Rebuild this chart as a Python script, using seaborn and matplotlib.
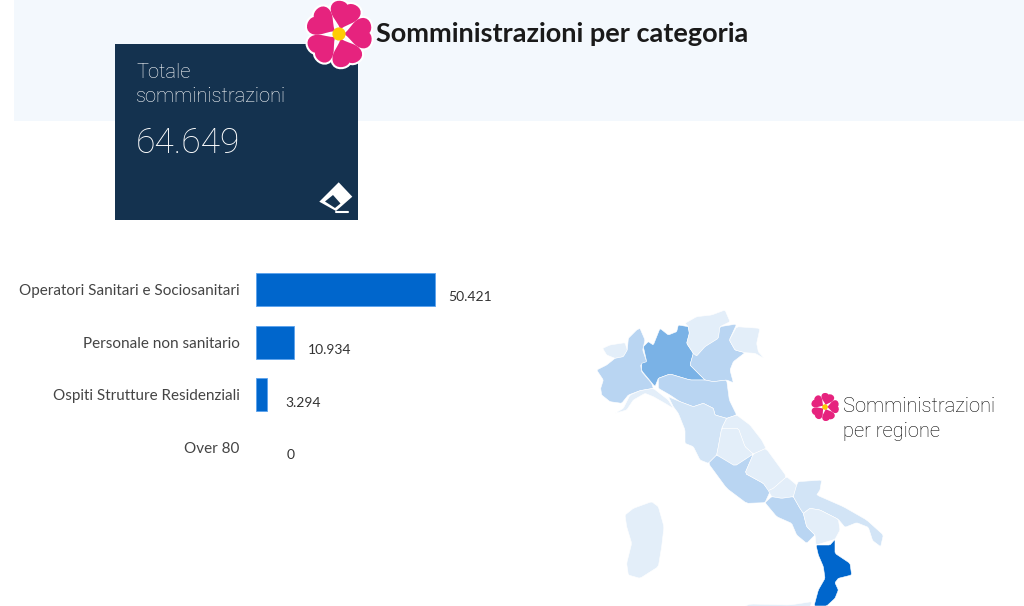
#plot.py
import numpy as np
import pandas as pd
import seaborn as sns
import matplotlib.pyplot as plt
from matplotlib.patches import PathPatch, Polygon, Rectangle, Circle
from matplotlib.path import Path
from matplotlib.transforms import Affine2D

#bar data
categories = ['Operatori Sanitari e Sociosanitari', 'Personale non sanitario',
              'Ospiti Strutture Residenziali', 'Over 80']
values = [50421, 10934, 3294, 0]
value_labels = ['50.421', '10.934', '3.294', '0']
total_label = '64.649'

BLUE = '#0066CC'
C1 = '#E3EEF9'
C2 = '#D2E4F6'
C3 = '#B9D5F2'
C4 = '#7AB2E6'
FONT = 'Lato'
LIGHT = 'Roboto'

#map outlines, (x, y) in px relative to the map corner
regions = {
    'aosta': (C1, [(38,145),(60,135),(105,128),(112,150),(100,170),(75,175),(50,165)]),
    'piemonte': (C3, [(20,210),(50,195),(75,175),(100,170),(112,150),(115,115),(140,90),(150,85),(165,120),(158,150),(170,185),(152,195),(155,215),(185,250),(190,265),(150,272),(115,285),(95,310),(60,305),(35,285),(32,265),(40,240)]),
    'lombardia': (C4, [(160,140),(175,125),(190,135),(210,85),(235,105),(260,95),(265,75),(295,80),(298,100),(290,130),(310,160),(300,195),(320,215),(345,240),(300,240),(240,222),(205,235),(195,260),(155,212),(155,190),(170,185)]),
    'trentino': (C1, [(285,70),(320,50),(365,45),(405,30),(420,65),(390,80),(385,115),(345,140),(320,168),(310,160),(290,130),(298,100),(295,80)]),
    'veneto': (C3, [(390,80),(440,72),(418,120),(435,150),(465,158),(430,185),(420,210),(430,248),(410,240),(370,245),(345,240),(320,215),(300,195),(310,160),(320,168),(345,140),(385,115)]),
    'friuli': (C1, [(440,80),(510,85),(500,130),(505,155),(522,175),(495,160),(465,158),(435,150),(418,120)]),
    'liguria': (C1, [(75,340),(100,325),(120,285),(150,272),(190,265),(235,300),(250,325),(225,310),(190,290),(165,280),(130,300),(110,330)]),
    'emilia': (C3, [(205,235),(240,222),(300,240),(345,240),(370,245),(410,240),(418,300),(440,345),(410,355),(375,345),(370,325),(340,310),(310,320),(270,305),(240,285),(205,265)]),
    'toscana': (C2, [(235,290),(270,305),(310,320),(340,310),(370,325),(375,345),(410,355),(395,385),(385,440),(380,465),(355,490),(330,480),(310,440),(285,430),(285,390),(265,340),(250,320)]),
    'marche': (C1, [(410,355),(440,345),(480,375),(515,420),(528,445),(490,462),(465,440),(445,385),(395,385)]),
    'umbria': (C1, [(395,385),(445,385),(465,440),(490,462),(435,498),(380,465),(385,440)]),
    'lazio': (C3, [(355,490),(380,465),(435,498),(490,462),(465,520),(520,550),(540,575),(525,608),(470,610),(410,565)]),
    'abruzzo': (C1, [(465,520),(490,462),(528,445),(590,530),(550,565),(535,572),(520,550)]),
    'molise': (C1, [(535,572),(550,565),(590,530),(620,555),(610,590),(575,595),(545,590)]),
    'campania': (C3, [(525,608),(545,590),(575,595),(610,590),(630,625),(640,640),(650,680),(675,705),(650,730),(620,705),(605,670),(560,650)]),
    'puglia': (C2, [(610,590),(620,555),(625,545),(695,540),(690,570),(680,585),(760,620),(830,660),(880,705),(872,740),(848,722),(835,682),(800,668),(765,682),(745,658),(690,630),(660,625),(640,640),(630,625)]),
    'basilicata': (C1, [(640,640),(660,625),(690,630),(745,658),(750,690),(735,718),(678,735),(675,705),(650,680)]),
    'calabria': (BLUE, [(678,735),(720,735),(735,718),(735,760),(780,790),(785,825),(745,835),(735,848),(745,870),(735,895),(710,918),(672,918),(685,870),(705,835),(700,800),(685,765)]),
    'sardegna': (C1, [(105,645),(130,625),(185,605),(205,620),(222,680),(215,740),(205,800),(150,835),(115,825),(110,790),(125,730),(110,680)]),
    'sicilia': (C1, [(450,925),(480,912),(600,915),(665,905),(660,925)]),
}

#one side of the heart petal, pointing along +x, unit radius
petal_verts = [(0.14, 0), (0.35, 0.12), (0.45, 0.44), (0.72, 0.46), (0.98, 0.48), (1.05, 0.12), (0.92, 0),
               (1.05, -0.12), (0.98, -0.48), (0.72, -0.46), (0.45, -0.44), (0.35, -0.12), (0.14, 0)]
petal_codes = [Path.MOVETO] + [Path.CURVE4] * 12


#flower made of 5 heart shaped petals
def draw_flower(ax, cx, cy, r, edge=0.0):
    layers = ([('white', edge)] if edge else []) + [('#E6237E', 0)]
    for color, lw in layers:
        for k in range(5):
            rot = Affine2D().scale(r).rotate_deg(-2 + 72 * k).translate(cx, cy) + ax.transData
            ax.add_patch(PathPatch(Path(petal_verts, petal_codes), fc=color, ec=color if lw else 'none',
                                   lw=lw, transform=rot))
    ax.add_patch(Circle((cx, cy), 0.2 * r, fc='#FFCB05', ec='none'))


#soften the traced corners a bit
def soften(pts, t=0.08):
    nxt = np.roll(pts, -1, axis=0)
    out = np.empty((len(pts) * 2, 2))
    out[0::2] = pts + t * (nxt - pts)
    out[1::2] = pts + (1 - t) * (nxt - pts)
    return out


sns.set_theme(style='white')
plt.rcParams['font.family'] = [FONT, 'DejaVu Sans']

fig = plt.figure(figsize=(10.24, 6.06), dpi=100)
W, H = 1024, 606

#full figure layer in pixels for the header and the map
bg = fig.add_axes([0, 0, 1, 1])
bg.set_xlim(0, W)
bg.set_ylim(H, 0)
bg.axis('off')

bg.add_patch(Rectangle((14, 0), W - 14, 121, fc='#F3F8FD', ec='none'))
bg.add_patch(Rectangle((115, 43.5), 242.5, 176, fc='#14324F', ec='none'))

bg.text(376, 34, 'Somministrazioni per categoria', fontsize=19.5, fontweight='bold',
        color='#1A1A1A', va='center', ha='left')
bg.text(136, 72, 'Totale', fontsize=14.5, family=LIGHT, fontweight='light', color='white', va='center')
bg.text(136, 97, 'somministrazioni', fontsize=14.5, family=LIGHT, fontweight='light', color='white', va='center')
bg.text(136, 143.5, total_label, fontsize=25.5, family=LIGHT, fontweight='light', color='white', va='center')

#eraser icon
bg.add_patch(Polygon([(338.7,182.3),(352.3,196.7),(336,211),(319.3,201.7)], closed=True, fc='white', ec='none'))
bg.add_patch(Polygon([(325,201.5),(333,195),(340.5,203.5),(335,208)], closed=True, fc='#14324F', ec='none'))
bg.plot([336, 348], [212, 212], color='white', lw=1.5)

draw_flower(bg, 339, 34, 33, edge=3)
draw_flower(bg, 825, 407, 14)

bg.text(843, 406, 'Somministrazioni', fontsize=14.5, family=LIGHT, fontweight='light', color='black', va='center')
bg.text(843, 431.5, 'per regione', fontsize=14.5, family=LIGHT, fontweight='light', color='black', va='center')

#map
map_x, map_y = 590, 300
for name, (color, outline) in regions.items():
    pts = soften(np.array(outline, dtype=float) / 3 + [map_x, map_y])
    bg.add_patch(Polygon(pts, closed=True, fc=color, ec='white', lw=0.4, joinstyle='round'))

#bars
bar_df = pd.DataFrame({'categoria': categories, 'valore': values})
ax = fig.add_axes([255.5 / W, 1 - 474 / H, 240 / W, 211 / H])
ax.patch.set_alpha(0)
sns.barplot(data=bar_df, y='categoria', x='valore', color=BLUE, saturation=1, width=0.626,
            edgecolor='#5AA2EE', linewidth=0.6, ax=ax)
ax.set_xlim(0, max(values) * 240 / 179)
ax.set_xlabel('')
ax.set_ylabel('')
ax.set_xticks([])
sns.despine(ax=ax, left=True, bottom=True)
ax.tick_params(axis='y', length=0, pad=11.5, labelsize=11, labelcolor='#444444')

#the zero bar would still show its edge
for bar in ax.patches:
    if bar.get_width() == 0:
        bar.set_visible(False)

#labels are centered a fixed distance after the bar end
for i, (v, lab) in enumerate(zip(values, value_labels)):
    ax.annotate(lab, (v, i), xytext=(25.6, -5.5), textcoords='offset points',
                fontsize=10, color='#333333', va='center', ha='center')

fig.savefig('out.png', dpi=100)
